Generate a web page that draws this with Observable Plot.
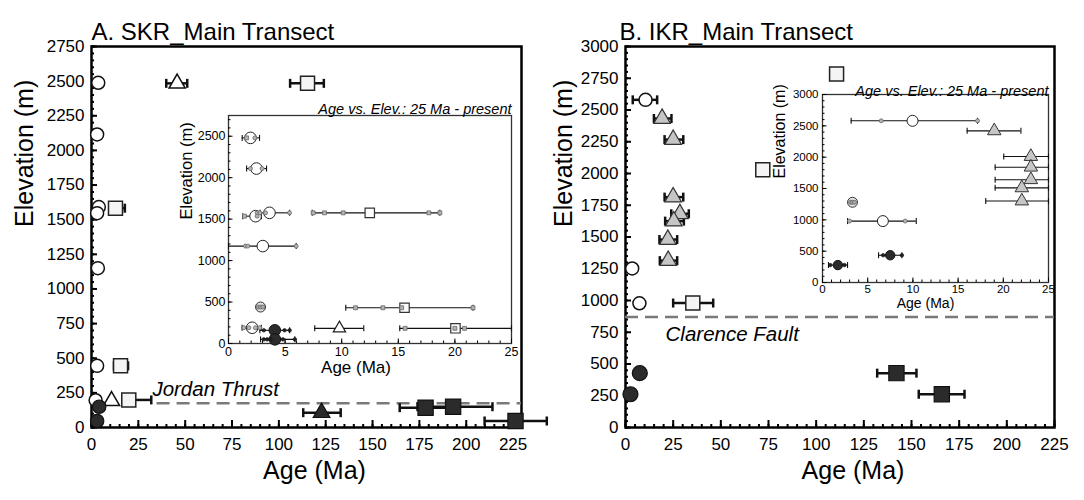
<!DOCTYPE html>
<html><head><meta charset="utf-8">
<script src="https://cdn.jsdelivr.net/npm/d3@7"></script>
<script src="https://cdn.jsdelivr.net/npm/@observablehq/plot@0.6"></script>
<style>
body{margin:0;background:#fff;}
#wrap{position:relative;width:1084px;height:500px;overflow:hidden;background:#fff;}
#wrap svg{position:absolute;overflow:visible;}
</style></head><body><div id="wrap"></div>
<script>
// ---------- Panel A main (SKR) ----------
const A_xTicks = [0, 25, 50, 75, 100, 125, 150, 175, 200, 225];
const A_yTicks = [0, 250, 500, 750, 1000, 1250, 1500, 1750, 2000, 2250, 2500, 2750];
const A_openCircles = [
  {age: 3.6, elev: 2488}, {age: 3.0, elev: 2115}, {age: 3.9, elev: 1591}, {age: 3.0, elev: 1547},
  {age: 3.4, elev: 1150}, {age: 3.0, elev: 445}, {age: 2.2, elev: 197}];
const A_openSquares = [
  {age: 115.3, elev: 2484, lo: 106, hi: 124},
  {age: 12.8, elev: 1583, lo: 9.5, hi: 17.8},
  {age: 15.5, elev: 445, lo: 12, hi: 19.5},
  {age: 19.9, elev: 199, lo: 16.4, hi: 31.9}];
const A_openTriangles = [{age: 45.7, elev: 2484, lo: 39.9, hi: 51.1}, {age: 10.7, elev: 192}];
const A_filledCircles = [{age: 4.1, elev: 150}, {age: 3.0, elev: 47}];
const A_filledTriangles = [{age: 122.8, elev: 107, lo: 113, hi: 133}];
const A_filledSquares = [
  {age: 178.3, elev: 143, lo: 164.5, hi: 192},
  {age: 193, elev: 150, lo: 174, hi: 214},
  {age: 226.3, elev: 47, lo: 209.8, hi: 243}];
const A_fault = [{elev: 175, from: 35, to: 229.5}];
const A_faultLabel = [{age: 32.5, elev: 278, text: "Jordan Thrust"}];

// ---------- Panel B main (IKR) ----------
const B_xTicks = [0, 25, 50, 75, 100, 125, 150, 175, 200, 225];
const B_yTicks = [0, 250, 500, 750, 1000, 1250, 1500, 1750, 2000, 2250, 2500, 2750, 3000];
const B_openCircles = [{age: 10.5, elev: 2580, lo: 3.8, hi: 16.6}, {age: 3.5, elev: 1252}, {age: 7.3, elev: 978}];
const B_grayTriangles = [
  {age: 19.2, elev: 2433, lo: 14.9, hi: 24.1},
  {age: 25.0, elev: 2267, lo: 20.5, hi: 30.3},
  {age: 25.0, elev: 1814, lo: 20.5, hi: 30.3},
  {age: 28.5, elev: 1683, lo: 24.0, hi: 33.2},
  {age: 25.3, elev: 1625, lo: 20.8, hi: 30.6},
  {age: 22.2, elev: 1480, lo: 17.8, hi: 27.1},
  {age: 22.4, elev: 1314, lo: 18.0, hi: 27.1}];
const B_openSquares = [{age: 35.3, elev: 980, lo: 25, hi: 46}, {age: 72, elev: 2030}, {age: 110.7, elev: 2783}];
const B_filledCircles = [{age: 7.5, elev: 428}, {age: 2.6, elev: 262}];
const B_filledSquares = [{age: 142.1, elev: 428, lo: 132, hi: 152.6}, {age: 165.9, elev: 262, lo: 153.8, hi: 177.8}];
const B_fault = [{elev: 870}];
const B_faultLabel = [{age: 21, elev: 735, text: "Clarence Fault"}];

// ---------- Inset A (0-25 Ma) ----------
const IA_xTicks = [0, 5, 10, 15, 20, 25];
const IA_yTicks = [0, 500, 1000, 1500, 2000, 2500];
const IA_openCircles = [
  {age: 1.94, elev: 2480, lo: 1.21, hi: 2.74},
  {age: 2.47, elev: 2110, lo: 1.6, hi: 3.36},
  {age: 3.62, elev: 1576, lo: 2.8, hi: 5.4},
  {age: 2.39, elev: 1536, lo: 1.26, hi: 2.9},
  {age: 3.03, elev: 1175, lo: 0, hi: 5.98},
  {age: 2.09, elev: 190, lo: 1.2, hi: 2.9}];
const IA_openSquares = [
  {age: 12.48, elev: 1576, lo: 7.4, hi: 18.67},
  {age: 15.55, elev: 431, lo: 10.36, hi: 21.6},
  {age: 20.05, elev: 183, lo: 15.13, hi: 25}];
const IA_openTriangles = [{age: 9.8, elev: 183, lo: 7.62, hi: 11.95}];
const IA_filledCircles = [{age: 4.09, elev: 159, lo: 2.77, hi: 5.4}, {age: 4.1, elev: 50, lo: 2.83, hi: 5.86}];
const IA_hatched = [{age: 2.83, elev: 440}];
const IA_grainCircles = [
  {age: 2.33, elev: 2480}, {age: 1.94, elev: 2110}, {age: 2.97, elev: 2110},
  {age: 2.53, elev: 1576}, {age: 2.77, elev: 1576}, {age: 3.27, elev: 1576}, {age: 5.39, elev: 1576},
  {age: 2.53, elev: 1536}, {age: 1.5, elev: 1175}, {age: 1.7, elev: 1175}, {age: 5.98, elev: 1175},
  {age: 1.35, elev: 190}, {age: 1.8, elev: 190}, {age: 2.38, elev: 190}, {age: 2.77, elev: 190}];
const IA_grainSquares = [
  {age: 1.59, elev: 2480}, {age: 1.41, elev: 1536},
  {age: 7.48, elev: 1576}, {age: 8.48, elev: 1576}, {age: 10.13, elev: 1576}, {age: 17.7, elev: 1576}, {age: 18.67, elev: 1576},
  {age: 11.22, elev: 431}, {age: 13.64, elev: 431}, {age: 15.3, elev: 431}, {age: 21.6, elev: 431},
  {age: 15.6, elev: 183}, {age: 20.0, elev: 183}, {age: 20.85, elev: 183}];
const IA_grainDots = [
  {age: 3.12, elev: 159}, {age: 4.95, elev: 159}, {age: 5.4, elev: 159},
  {age: 3.12, elev: 50}, {age: 3.42, elev: 50}, {age: 3.71, elev: 50}, {age: 4.8, elev: 50}, {age: 5.86, elev: 50}];
const IA_hatchGrains = [{age: 2.62, elev: 440}, {age: 2.83, elev: 440}, {age: 3.04, elev: 440}];

// ---------- Inset B (0-25 Ma) ----------
const IB_xTicks = [0, 5, 10, 15, 20, 25];
const IB_yTicks = [0, 500, 1000, 1500, 2000, 2500, 3000];
const IB_openCircles = [{age: 9.96, elev: 2580, lo: 3.17, hi: 17.15}, {age: 6.68, elev: 980, lo: 2.77, hi: 10.37}];
const IB_hatched = [{age: 3.32, elev: 1280}];
const IB_hatchGrains = [{age: 3.1, elev: 1280}, {age: 3.32, elev: 1280}, {age: 3.54, elev: 1280}];
const IB_grayTriangles = [
  {age: 19.0, elev: 2420, lo: 16, hi: 21.95},
  {age: 23.05, elev: 2010, lo: 20.05, hi: 25},
  {age: 23.05, elev: 1840, lo: 19.1, hi: 25},
  {age: 23.05, elev: 1640, lo: 19.1, hi: 25},
  {age: 22.05, elev: 1510, lo: 19.1, hi: 25},
  {age: 22.05, elev: 1300, lo: 18.06, hi: 25}];
const IB_filledCircles = [{age: 7.49, elev: 435, lo: 6.2, hi: 8.78}, {age: 1.7, elev: 278, lo: 0.66, hi: 2.77}];
const IB_grainCircles = [{age: 6.5, elev: 2580}, {age: 17.15, elev: 2580}, {age: 2.99, elev: 980}, {age: 9.15, elev: 980}];
const IB_grainDots = [{age: 6.71, elev: 435}, {age: 8.78, elev: 435}, {age: 0.85, elev: 278}, {age: 2.43, elev: 278}];

// ---------- helpers ----------
const F = '"Liberation Sans", Arial, Helvetica, sans-serif';
const wrap = document.getElementById("wrap");
const DARK = "#2b2b2b", GRAY = "#c6c6c6";
const capSym = {draw(ctx, size) { const h = Math.sqrt(size / Math.PI); ctx.moveTo(0, -h); ctx.lineTo(0, h); }};
const fmt = d => String(d);

function bars(data, sw, cap, stroke = "#111") {
  const d = data.filter(p => p.lo !== undefined);
  return [
    Plot.ruleY(d, {y: "elev", x1: "lo", x2: "hi", stroke, strokeWidth: sw}),
    Plot.dot(d, {x: "lo", y: "elev", r: cap, symbol: capSym, stroke, strokeWidth: sw, fill: "none"}),
    Plot.dot(d, {x: "hi", y: "elev", r: cap, symbol: capSym, stroke, strokeWidth: sw, fill: "none"})
  ];
}
function pts(data, symbol, r, fill, stroke, sw) {
  return Plot.dot(data, {x: "age", y: "elev", symbol, r, fill, stroke, strokeWidth: sw});
}
function axes(o) {
  return [
    Plot.axisX(o.xMinor, {tickSize: -o.minor, strokeWidth: o.sw, tickFormat: () => "", label: null}),
    Plot.axisX(o.xt, {tickSize: -o.majorX, strokeWidth: o.sw, tickFormat: () => "", label: null}),
    Plot.axisX(o.xt, {tickSize: 0, tickPadding: o.xPad, fontSize: o.fs, tickFormat: fmt, label: null}),
    Plot.axisY(o.yMinor, {tickSize: -o.minor, strokeWidth: o.sw, tickFormat: () => "", label: null}),
    Plot.axisY(o.yt, {tickSize: -o.majorY, strokeWidth: o.sw, tickFormat: () => "", label: null}),
    Plot.axisY(o.yt, {tickSize: 0, tickPadding: o.yPad, fontSize: o.fs, tickFormat: fmt, label: null})
  ];
}
function place(svg, left, top) {
  svg.style.position = "absolute"; svg.style.left = left + "px"; svg.style.top = top + "px";
  wrap.appendChild(svg);
}
const styleBase = {fontFamily: F, background: "transparent", overflow: "visible", color: "black"};

// ---------- Panel A ----------
place(Plot.plot({
  width: 560, height: 500, marginLeft: 91, marginRight: 39, marginTop: 46, marginBottom: 73,
  x: {domain: [0, 229.5]}, y: {domain: [0, 2750]}, style: styleBase,
  marks: [
    Plot.frame({stroke: "black", strokeWidth: 2.5}),
    ...axes({xt: A_xTicks, xMinor: d3.range(0, 230, 5), yt: A_yTicks, yMinor: d3.range(0, 2751, 50),
             minor: 3, majorX: 7, majorY: 6, sw: 2, xPad: 10.5, yPad: 7, fs: 17}),
    Plot.ruleY(A_fault, {y: "elev", x1: "from", x2: "to", stroke: "#7a7a7a", strokeWidth: 2.5, strokeDasharray: "13,7"}),
    Plot.text(A_faultLabel, {x: "age", y: "elev", text: "text", textAnchor: "start", fontSize: 20.5, fontStyle: "italic"}),
    ...bars(A_openSquares, 2.5, 4.5), ...bars(A_openTriangles, 2.5, 4.5),
    ...bars(A_filledTriangles, 2.5, 4.5), ...bars(A_filledSquares, 2.5, 4.5),
    pts(A_openCircles, "circle", 6.5, "white", "#111", 1.5),
    pts(A_openSquares, "square", 7.9, "#f4f4f4", "#222", 1.5),
    pts(A_openTriangles, "triangle", 6, "white", "#111", 1.5),
    pts(A_filledCircles, "circle", 6.7, DARK, "#111", 1.2),
    pts(A_filledTriangles, "triangle", 6.2, DARK, "#111", 1.2),
    pts(A_filledSquares, "square", 8.6, DARK, "#111", 1.2),
    Plot.text(["A. SKR_Main Transect"], {text: d => d, frameAnchor: "top-left", textAnchor: "start", dy: -24, fontSize: 24}),
    Plot.text(["Age (Ma)"], {text: d => d, frameAnchor: "bottom", dx: 8, dy: 51, fontSize: 25}),
    Plot.text(["Elevation (m)"], {text: d => d, frameAnchor: "left", dx: -67, dy: -10, rotate: -90, fontSize: 25})
  ]
}), 0, 0);

// ---------- Panel B ----------
place(Plot.plot({
  width: 544, height: 500, marginLeft: 85, marginRight: 30, marginTop: 46, marginBottom: 73,
  x: {domain: [0, 225]}, y: {domain: [0, 3000]}, style: styleBase,
  marks: [
    Plot.frame({stroke: "black", strokeWidth: 2.5}),
    ...axes({xt: B_xTicks, xMinor: d3.range(0, 226, 5), yt: B_yTicks, yMinor: d3.range(0, 3001, 50),
             minor: 3, majorX: 7, majorY: 6, sw: 2, xPad: 10.5, yPad: 7, fs: 17}),
    Plot.ruleY(B_fault, {y: "elev", stroke: "#7a7a7a", strokeWidth: 2.5, strokeDasharray: "13,7"}),
    Plot.text(B_faultLabel, {x: "age", y: "elev", text: "text", textAnchor: "start", fontSize: 20.5, fontStyle: "italic"}),
    ...bars(B_openCircles, 2.5, 4.5), ...bars(B_grayTriangles, 2.5, 4.5),
    ...bars(B_openSquares, 2.5, 4.5), ...bars(B_filledSquares, 2.5, 4.5),
    pts(B_openCircles, "circle", 6.5, "white", "#111", 1.5),
    pts(B_grayTriangles, "triangle", 6.2, GRAY, "#333", 1.2),
    pts(B_openSquares, "square", 7.9, "#f4f4f4", "#222", 1.5),
    pts(B_filledCircles, "circle", 7.5, DARK, "#111", 1.2),
    pts(B_filledSquares, "square", 8.6, DARK, "#111", 1.2),
    Plot.text(["B. IKR_Main Transect"], {text: d => d, frameAnchor: "top-left", textAnchor: "start", dx: -6, dy: -24, fontSize: 24}),
    Plot.text(["Age (Ma)"], {text: d => d, frameAnchor: "bottom", dx: 13, dy: 51, fontSize: 25}),
    Plot.text(["Elevation (m)"], {text: d => d, frameAnchor: "left", dx: -62, dy: -10, rotate: -90, fontSize: 25})
  ]
}), 540, 0);

// ---------- Inset A ----------
place(Plot.plot({
  width: 360, height: 295, marginLeft: 68, marginRight: 9, marginTop: 27, marginBottom: 40,
  x: {domain: [0, 25]}, y: {domain: [0, 2750]}, style: styleBase,
  marks: [
    Plot.frame({fill: "white", stroke: "#333", strokeWidth: 1.3}),
    ...axes({xt: IA_xTicks, xMinor: d3.range(0, 26, 1), yt: IA_yTicks, yMinor: d3.range(0, 2751, 100),
             minor: 2.5, majorX: 4.5, majorY: 4.5, sw: 1, xPad: 4, yPad: 3, fs: 12.5}),
    ...bars(IA_openCircles, 1.1, 3), ...bars(IA_openSquares, 1.1, 3),
    ...bars(IA_openTriangles, 1.1, 3), ...bars(IA_filledCircles, 1.1, 3),
    pts(IA_openCircles, "circle", 5.8, "white", "#222", 1),
    pts(IA_openSquares, "square", 5.3, "white", "#333", 1.2),
    pts(IA_openTriangles, "triangle", 4.6, "white", "#222", 1.2),
    pts(IA_filledCircles, "circle", 5.8, DARK, "#111", 1),
    pts(IA_hatched, "circle", 5, "#e2e2e2", "#333", 1),
    pts(IA_hatchGrains, "circle", 2, "#a8a8a8", "#666", 0.8),
    pts(IA_grainCircles, "circle", 2, "#b4b4b4", "#666", 0.8),
    pts(IA_grainSquares, "square", 2.2, "#b4b4b4", "#666", 0.8),
    pts(IA_grainDots, "circle", 1.8, "#222", "#111", 0.6),
    Plot.text(["Age vs. Elev.: 25 Ma - present"], {text: d => d, frameAnchor: "top-right", textAnchor: "end", dy: -12, fontSize: 14.5, fontStyle: "italic"}),
    Plot.text(["Age (Ma)"], {text: d => d, frameAnchor: "bottom", dx: -14, dy: 29, fontSize: 17}),
    Plot.text(["Elevation (m)"], {text: d => d, frameAnchor: "left", dx: -42, dy: -10, rotate: -90, fontSize: 16.5})
  ]
}), 160, 88);

// ---------- Inset B ----------
place(Plot.plot({
  width: 300, height: 240, marginLeft: 62, marginRight: 12, marginTop: 24, marginBottom: 28,
  x: {domain: [0, 25]}, y: {domain: [0, 3000]}, style: styleBase,
  marks: [
    Plot.frame({fill: "white", stroke: "#333", strokeWidth: 1.3}),
    ...axes({xt: IB_xTicks, xMinor: d3.range(0, 26, 1), yt: IB_yTicks, yMinor: d3.range(0, 3001, 100),
             minor: 2.5, majorX: 4.5, majorY: 4.5, sw: 1, xPad: 2, yPad: 4, fs: 11.5}),
    ...bars(IB_openCircles, 1.1, 3), ...bars(IB_grayTriangles, 1.1, 3), ...bars(IB_filledCircles, 1.1, 3),
    pts(IB_openCircles, "circle", 5.5, "white", "#222", 1),
    pts(IB_grayTriangles, "triangle", 5, GRAY, "#333", 1),
    pts(IB_filledCircles, "circle", 4.7, DARK, "#111", 1),
    pts(IB_hatched, "circle", 5, "#e2e2e2", "#333", 1),
    pts(IB_hatchGrains, "circle", 2, "#a8a8a8", "#666", 0.8),
    pts(IB_grainCircles, "circle", 2, "#b4b4b4", "#666", 0.8),
    pts(IB_grainDots, "circle", 1.8, "#222", "#111", 0.6),
    Plot.text(["Age vs. Elev.: 25 Ma - present"], {text: d => d, frameAnchor: "top-right", textAnchor: "end", dy: -9, fontSize: 14.5, fontStyle: "italic"}),
    Plot.text(["Age (Ma)"], {text: d => d, frameAnchor: "bottom", dx: -10, dy: 25, fontSize: 14}),
    Plot.text(["Elevation (m)"], {text: d => d, frameAnchor: "left", dx: -43, dy: -10, rotate: -90, fontSize: 16})
  ]
}), 760, 70);
</script>
</body></html>
